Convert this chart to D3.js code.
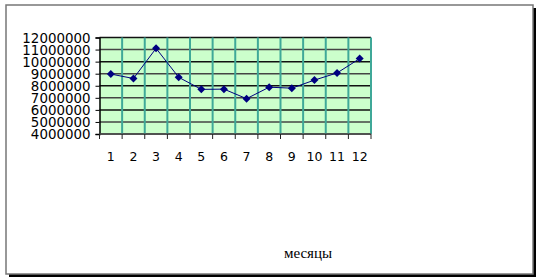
<!DOCTYPE html>
<html>
<head>
<meta charset="utf-8">
<script src="https://cdn.jsdelivr.net/npm/d3@7"></script>
<style>
  body { margin: 0; background: #fff; }
</style>
</head>
<body>
<div class="canvas"></div>
<script>
const months = ["1", "2", "3", "4", "5", "6", "7", "8", "9", "10", "11", "12"];
const values = [8970000, 8600000, 11100000, 8700000, 7700000, 7720000, 6930000, 7880000, 7800000, 8470000, 9060000, 10250000];
const yTicks = [4000000, 5000000, 6000000, 7000000, 8000000, 9000000, 10000000, 11000000, 12000000];
const xTitle = "месяцы";

const svg = d3.select('.canvas')
  .append('svg')
  .attr('width', 538)
  .attr('height', 280)

// frame with shadow
svg.append('rect')
  .attr('x', 9).attr('y', 8)
  .attr('width', 527).attr('height', 269)
  .attr('fill', '#000')
svg.append('rect')
  .attr('x', 6).attr('y', 5)
  .attr('width', 527).attr('height', 269)
  .attr('fill', '#fff')
  .attr('stroke', '#777')
  .attr('stroke-width', 1.5)

const plotLeft = 99.5, plotRight = 371, plotTop = 37.5, plotBottom = 134;

const x = d3.scaleBand()
  .domain(months)
  .range([plotLeft, plotRight])

const y = d3.scaleLinear()
  .domain([4000000, 12000000])
  .range([plotBottom, plotTop])

const plot = svg.append('g');

plot.append('rect')
  .attr('x', plotLeft).attr('y', plotTop)
  .attr('width', plotRight - plotLeft).attr('height', plotBottom - plotTop)
  .attr('fill', '#ccffcc')

// horizontal gridlines
plot.selectAll('.hgrid')
  .data(yTicks)
  .join('line')
  .attr('class', 'hgrid')
  .attr('x1', plotLeft).attr('x2', plotRight)
  .attr('y1', d => y(d)).attr('y2', d => y(d))
  .attr('stroke', (d, i) => i % 2 ? '#444' : '#111')
  .attr('stroke-width', 1.5)

// vertical gridlines at category boundaries
const bounds = months.slice(1).map(m => x(m)).concat([plotRight]);
plot.selectAll('.vgrid')
  .data(bounds)
  .join('line')
  .attr('class', 'vgrid')
  .attr('x1', d => d).attr('x2', d => d)
  .attr('y1', plotTop).attr('y2', plotBottom)
  .attr('stroke', '#3fa898')
  .attr('stroke-width', 2)

// axes
const yAxis = d3.axisLeft(y)
  .tickValues(yTicks)
  .tickFormat(d3.format('d'))
  .tickSize(4)
svg.append('g')
  .attr('transform', `translate(${plotLeft},0)`)
  .call(yAxis)
  .call(g => g.select('.domain').attr('stroke', '#000').attr('stroke-width', 1.5))
  .call(g => g.selectAll('.tick line').attr('stroke', '#000'))
  .call(g => g.selectAll('text')
    .attr('x', -9)
    .attr('dy', '0.36em')
    .attr('fill', '#000')
    .style('font-family', 'DejaVu Sans')
    .style('font-size', '13.4px'))

const xAxis = svg.append('g')
  .attr('transform', `translate(0,${plotBottom})`);
xAxis.append('line')
  .attr('x1', plotLeft).attr('x2', plotRight)
  .attr('stroke', '#555').attr('stroke-width', 1.5)
xAxis.selectAll('.xtick')
  .data([plotLeft].concat(bounds))
  .join('line')
  .attr('x1', d => d).attr('x2', d => d)
  .attr('y1', 0).attr('y2', 5)
  .attr('stroke', '#222')
xAxis.selectAll('.xlabel')
  .data(months)
  .join('text')
  .attr('x', d => x(d) + x.bandwidth() / 2)
  .attr('y', 27)
  .attr('text-anchor', 'middle')
  .style('font-family', 'DejaVu Sans')
  .style('font-size', '12.5px')
  .text(d => d)

// series line and markers
const line = d3.line()
  .x((d, i) => x(months[i]) + x.bandwidth() / 2)
  .y(d => y(d))

plot.append('path')
  .datum(values)
  .attr('d', line)
  .attr('fill', 'none')
  .attr('stroke', '#000080')
  .attr('stroke-width', 1)

plot.selectAll('.marker')
  .data(values)
  .join('path')
  .attr('class', 'marker')
  .attr('d', d3.symbol(d3.symbolSquare, 32))
  .attr('transform', (d, i) => `translate(${x(months[i]) + x.bandwidth() / 2},${y(d)}) rotate(45)`)
  .attr('fill', '#000080')

svg.append('text')
  .attr('x', 308)
  .attr('y', 258)
  .attr('text-anchor', 'middle')
  .style('font-family', 'Liberation Serif')
  .style('font-size', '15px')
  .text(xTitle)
</script>
</body>
</html>
